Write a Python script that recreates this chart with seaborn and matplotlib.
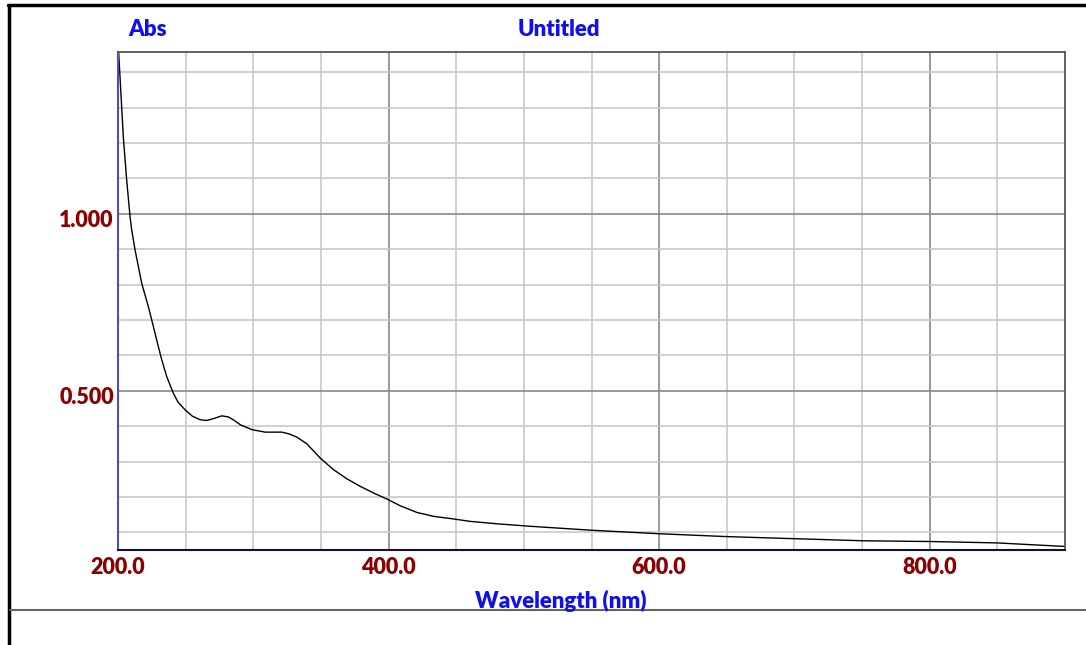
import matplotlib
matplotlib.use("Agg")
import matplotlib.pyplot as plt
import matplotlib.transforms as mtransforms
from matplotlib.lines import Line2D
import numpy as np
import pandas as pd
import seaborn as sns

# Absorbance spectrum (wavelength in nm, absorbance)
wavelength = [200.0, 200.5, 202.7, 203.9, 206.4, 208.9, 210.1, 212.6, 217.5, 222.4, 226.1,
              229.8, 232.3, 236.0, 240.9, 244.5, 249.6, 255.0, 260.7, 265.6, 270.5, 276.7,
              281.6, 286.0, 290.3, 299.0, 308.8, 321.1, 326.5, 332.2, 339.6, 349.4,
              359.3, 369.2, 379.0, 388.9, 398.8, 408.6, 421.0, 433.3, 445.6, 460.0,
              480.2, 504.8, 549.2, 599.7, 649.0, 699.6, 751.4, 800.0, 850.0, 900.0]
absorbance = [1.465, 1.454, 1.303, 1.218, 1.096, 0.992, 0.955, 0.898, 0.804, 0.738, 0.682,
              0.625, 0.588, 0.540, 0.493, 0.467, 0.446, 0.428, 0.418, 0.416, 0.421, 0.429,
              0.426, 0.416, 0.404, 0.390, 0.383, 0.383, 0.378, 0.369, 0.350, 0.310,
              0.277, 0.251, 0.230, 0.211, 0.194, 0.175, 0.156, 0.145, 0.139, 0.131,
              0.124, 0.117, 0.106, 0.096, 0.088, 0.082, 0.076, 0.074, 0.070, 0.060]

x_major = [200.0, 400.0, 600.0, 800.0]
x_labels = ["200.0", "400.0", "600.0", "800.0"]
y_major = [0.5, 1.0]
y_labels = ["0.500", "1.000"]

sns.set_style("white")
plt.rcParams["font.family"] = ["Lato", "DejaVu Sans"]

fig = plt.figure(figsize=(10.86, 6.45), dpi=100)
W, H = 1086, 645
ax = fig.add_axes([118 / W, (H - 550) / H, 947 / W, 498 / H])

df = pd.DataFrame({"Wavelength": wavelength, "Abs": absorbance})
sns.lineplot(data=df, x="Wavelength", y="Abs", ax=ax, color="black", linewidth=1.0)

ax.set_xlim(200, 900)
ax.set_ylim(0.05, 1.457)

# grid: light minor lines, darker major lines
ax.set_xticks(np.arange(250, 900, 50), minor=True)
ax.set_yticks(np.arange(0.1, 1.45, 0.1), minor=True)
ax.set_xticks(x_major)
ax.set_xticklabels(x_labels)
ax.set_yticks(y_major)
ax.set_yticklabels(y_labels)
ax.grid(which="minor", color="#c8c8c8", linewidth=1.2)
ax.grid(which="major", color="#888888", linewidth=1.2)
ax.set_axisbelow(True)

ax.tick_params(which="both", length=0)
ax.tick_params(axis="x", pad=5)
ax.tick_params(axis="y", pad=3)
for lab in ax.get_xticklabels() + ax.get_yticklabels():
    lab.set_color("#8b0000")
    lab.set_fontweight("heavy")
    lab.set_fontsize(15.5)

# y labels sit slightly below their grid lines
shift = mtransforms.ScaledTranslation(0, -5 / 100, fig.dpi_scale_trans)
for lab in ax.get_yticklabels():
    lab.set_transform(lab.get_transform() + shift)

ax.set_xlabel("")
ax.set_ylabel("")

for side in ("top", "right"):
    ax.spines[side].set_color("#555555")
    ax.spines[side].set_linewidth(1.3)
ax.spines["left"].set_color("#5050b0")
ax.spines["left"].set_linewidth(1.5)
ax.spines["bottom"].set_color("#101040")
ax.spines["bottom"].set_linewidth(1.5)

blue = "#1010ee"
fig.text(148 / W, 1 - 30 / H, "Abs", color=blue, fontsize=16, fontweight="heavy",
         ha="center", va="center")
fig.text(559 / W, 1 - 30 / H, "Untitled", color=blue, fontsize=16, fontweight="heavy",
         ha="center", va="center")
fig.text(561 / W, 1 - 601 / H, "Wavelength (nm)", color=blue, fontsize=16,
         fontweight="heavy", ha="center", va="center")

# outer frame lines
fig.add_artist(Line2D([9 / W, 9 / W], [1 - 5 / H, 0], color="black", linewidth=2.5))
fig.add_artist(Line2D([8 / W, 1], [1 - 5 / H, 1 - 5 / H], color="black", linewidth=2.5))
fig.add_artist(Line2D([10 / W, 1], [1 - 610 / H, 1 - 610 / H], color="#666666", linewidth=1.5))

fig.savefig("out.png", dpi=100)
